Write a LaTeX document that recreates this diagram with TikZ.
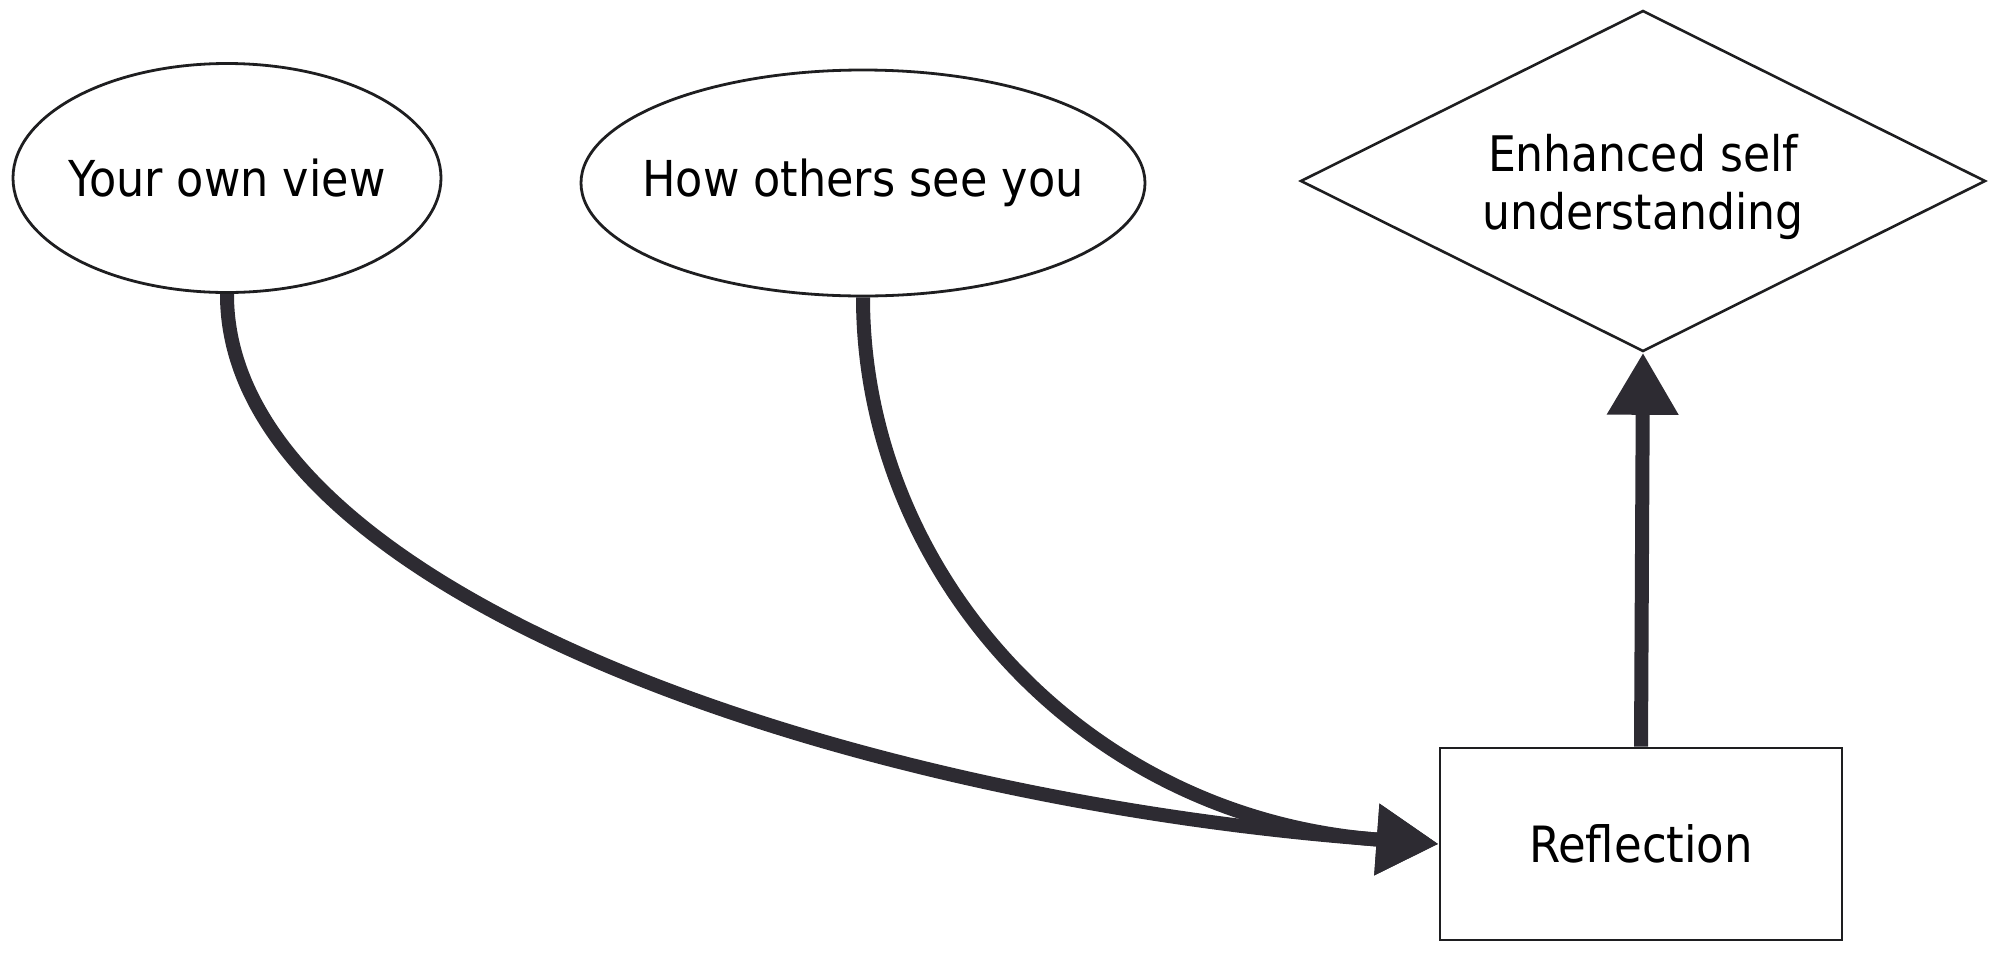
\documentclass[tikz,border=0pt]{standalone}
\usepackage{fontspec}
\setmainfont{DejaVu Sans Condensed}
\usetikzlibrary{shapes.geometric,arrows.meta}
\definecolor{ink}{RGB}{30,30,32}
\definecolor{arr}{RGB}{45,43,50}
\tikzset{
  ell/.style={ellipse,draw=ink,line width=2.8pt,inner xsep=-40pt,inner ysep=0pt,font=\fontsize{49.5}{58}\selectfont},
  dia/.style={diamond,draw=ink,line width=2.6pt,inner sep=0pt,aspect=2,align=center,font=\fontsize{49}{58}\selectfont},
  box/.style={rectangle,draw=ink,line width=2.8pt,inner sep=0pt,font=\fontsize{50}{58}\selectfont},
  flow/.style={draw=arr,line width=14pt,-{Triangle[length=62pt,width=68pt]}},
}
\begin{document}
\begin{tikzpicture}[x=1pt,y=-1pt]
\useasboundingbox (0,0) rectangle (1989,962);
\node[ell,minimum width=428pt,minimum height=229pt] (own) at (227,178) {Your own view};
\node[ell,minimum width=564pt,minimum height=226pt] (others) at (863,183) {How others see you};
\node[dia,minimum width=685pt,minimum height=341pt] (enh) at (1643,181) {\rule{0pt}{50pt}Enhanced self\\understanding};
\node[box,minimum width=402pt,minimum height=192pt] (refl) at (1641,844) {Reflection};
\draw[flow] (own.south) .. controls (226,590) and (840,800) .. (refl.west);
\draw[flow] (others.south) .. controls (863,570) and (1080,818) .. (refl.west);
\draw[flow] (refl.north) -- (enh.south);
\end{tikzpicture}
\end{document}
